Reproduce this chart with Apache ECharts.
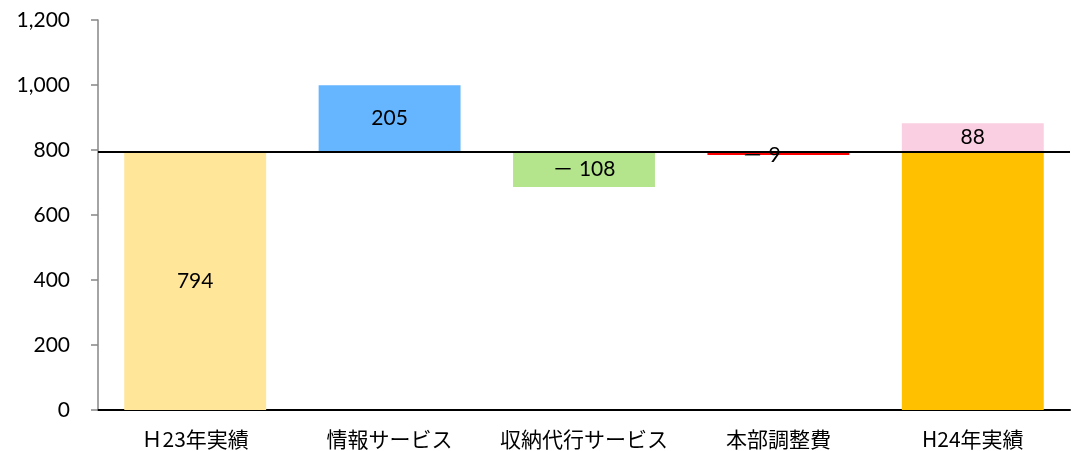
<!DOCTYPE html>
<html>
<head>
<meta charset="utf-8">
<script src="https://cdn.jsdelivr.net/npm/echarts@6/dist/echarts.min.js"></script>
<style>
html, body { margin: 0; padding: 0; background: #fff; }
#main { width: 1082px; height: 451px; }
</style>
</head>
<body>
<div id="main"></div>
<script>
var categories = ['Ｈ23年実績', '情報サービス', '収納代行サービス', '本部調整費', 'H24年実績'];
var startValue = 794;
var deltas = [205, -108, -9];
var endValue = 882;
var yTicks = [0, 200, 400, 600, 800, 1000, 1200];

var colors = ['#FFE699', '#66B5FF', '#B4E48C', '#FF0000', '#FFC000'];
var pink = '#FBCFE2';
var numFont = 'Lato, "Noto Sans CJK JP"';

// every change is drawn from the H23 line, not cumulatively
var baseData = [0];
var mainData = [{ value: startValue, itemStyle: { color: colors[0] }, label: { show: true, formatter: String(startValue) } }];
for (var i = 0; i < deltas.length; i++) {
    var d = deltas[i];
    var lbl = d < 0 ? '－ ' + Math.abs(d) : String(d);
    baseData.push(d >= 0 ? startValue : startValue + d);
    var item = { value: Math.abs(d), itemStyle: { color: colors[i + 1] }, label: { show: true, formatter: lbl } };
    if (i === 2) {
        item.label.offset = [-17, 2];
    }
    mainData.push(item);
}
baseData.push(0);
mainData.push({ value: startValue, itemStyle: { color: colors[4] }, label: { show: false } });
var extraData = [0, 0, 0, 0, { value: endValue - startValue, label: { show: true } }];

var chart = echarts.init(document.getElementById('main'));
chart.setOption({
    animation: false,
    grid: { left: 98, right: 12, top: 20, bottom: 41 },
    xAxis: {
        type: 'category',
        data: categories,
        axisLine: { lineStyle: { color: '#000', width: 2 } },
        axisTick: { show: false },
        axisLabel: { interval: 0, color: '#000', fontSize: 21, margin: 19, fontFamily: 'Noto Sans CJK JP' }
    },
    yAxis: {
        type: 'value',
        min: yTicks[0],
        max: yTicks[yTicks.length - 1],
        interval: 200,
        axisLine: { show: true, lineStyle: { color: '#868686', width: 1.5 } },
        axisTick: { show: true, length: 7, lineStyle: { color: '#868686', width: 1.5 } },
        splitLine: { show: false },
        axisLabel: {
            color: '#000', fontSize: 21, margin: 28, fontFamily: 'Lato',
            formatter: function (v) { return v.toLocaleString('en-US'); }
        }
    },
    series: [
        {
            type: 'bar', stack: 'w', data: baseData, barWidth: '73%',
            itemStyle: { color: 'transparent' }, silent: true,
            markLine: {
                silent: true, symbol: 'none', label: { show: false },
                lineStyle: { color: '#000', width: 2, type: 'solid' },
                data: [{ yAxis: startValue }]
            }
        },
        {
            type: 'bar', stack: 'w', data: mainData, barWidth: '73%',
            label: { show: true, position: 'inside', color: '#000', fontSize: 21, fontFamily: numFont }
        },
        {
            type: 'bar', stack: 'w', data: extraData, barWidth: '73%',
            itemStyle: { color: pink },
            label: { show: false, position: 'inside', color: '#000', fontSize: 21, fontFamily: numFont },
            z: 1
        }
    ]
});
</script>
</body>
</html>
